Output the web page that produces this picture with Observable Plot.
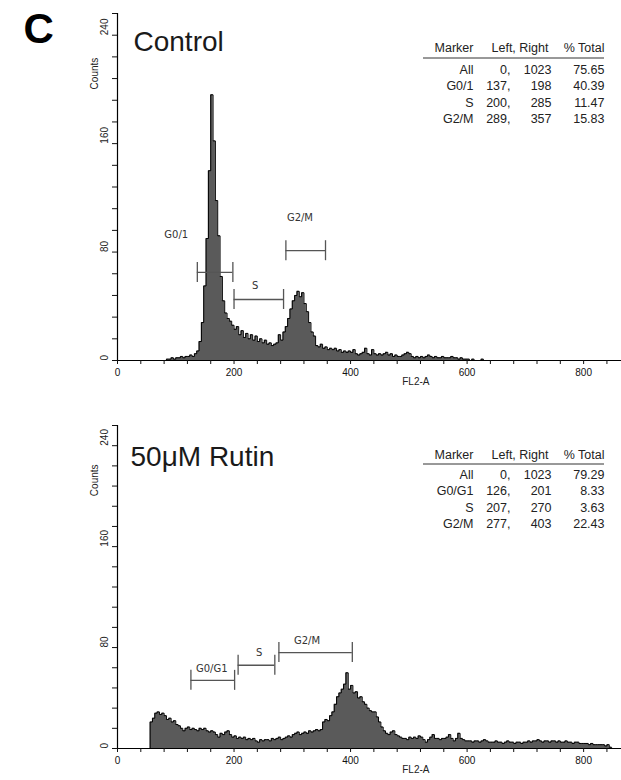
<!DOCTYPE html>
<html><head><meta charset="utf-8">
<script src="https://cdn.jsdelivr.net/npm/d3@7"></script>
<script src="https://cdn.jsdelivr.net/npm/@observablehq/plot@0.6"></script>
<style>
body{margin:0;background:#fff;}
#chart{width:621px;height:780px;position:relative;overflow:hidden;background:#fff;}
#chart svg{display:block;}
g[aria-label="marker-label"] text{letter-spacing:1.5px;}
</style></head><body><div id="chart"></div>
<script>
// ---------- data ----------
const binWidth = 4;            // FL2-A channels per histogram bin
const channelMax = 865;        // visible part of the 0..1023 channel axis
const countMax = 256;

const controlStart = 84;
const controlCounts = [1,1,2,1,2,2,3,2,3,3,4,3,5,7,14,28,55,90,140,196,162,118,92,62,44,35,31,29,26,23,25,19,22,17,20,16,19,15,18,14,16,13,15,12,13,11,12,13,19,15,21,25,31,38,44,48,51,47,50,42,36,28,21,18,11,10,12,9,10,8,9,8,9,7,8,6,7,6,7,6,8,5,4,5,6,9,5,4,8,5,4,5,4,5,6,4,5,3,4,3,3,4,5,6,5,3,2,3,2,3,2,3,4,3,2,3,2,2,3,2,2,2,3,2,2,1,2,1,1,1,0,1,0,0,0,1,0];

const rutinStart = 56;
const rutinCounts = [21,24,28,29,27,28,26,23,24,21,22,19,18,16,14,16,17,15,16,15,14,16,15,16,14,13,14,13,11,9,12,11,13,14,11,9,10,8,9,8,9,7,8,7,8,6,5,7,6,7,7,6,8,7,8,9,7,8,9,10,9,11,12,13,11,12,13,12,14,13,14,15,14,15,21,23,22,26,29,35,41,44,47,51,60,47,50,44,45,40,41,37,35,32,30,29,29,25,21,17,14,12,11,13,14,11,10,9,8,8,7,9,8,9,8,10,9,7,5,7,9,11,8,8,7,8,8,9,11,8,6,8,12,8,7,6,6,6,5,6,6,5,6,7,6,5,5,5,6,5,5,4,5,6,5,5,4,5,5,4,5,5,6,5,6,6,7,6,5,6,6,5,6,6,5,6,5,5,6,5,5,4,5,5,4,4,4,4,3,4,3,3,3,3,3,2,3,1];

const controlMarkerNames = ["G0/1", "S", "G2/M"];
const controlMarkerLeft  = [137, 200, 289];
const controlMarkerRight = [198, 285, 357];
const controlMarkerLevel = [65, 45, 81];

const rutinMarkerNames = ["G0/G1", "S", "G2/M"];
const rutinMarkerLeft  = [126, 207, 277];
const rutinMarkerRight = [201, 270, 403];
const rutinMarkerLevel = [54, 66, 76];

const tableHeader = ["Marker", "Left, Right", "% Total"];
const controlRowMarker = ["All", "G0/1", "S", "G2/M"];
const controlRowLeft   = [0, 137, 200, 289];
const controlRowRight  = [1023, 198, 285, 357];
const controlRowTotal  = ["75.65", "40.39", "11.47", "15.83"];

const rutinRowMarker = ["All", "G0/G1", "S", "G2/M"];
const rutinRowLeft   = [0, 126, 207, 277];
const rutinRowRight  = [1023, 201, 270, 403];
const rutinRowTotal  = ["79.29", "8.33", "3.63", "22.43"];

const xTickLabels = [0, 200, 400, 600, 800];
const yTickLabels = [0, 80, 160, 240];
const xMinorStep = 40;
const yMinorStep = 16;

// ---------- styling / layout ----------
const FONT = "'Liberation Sans', Arial, Helvetica, sans-serif";
const FILL = "#5a5a5a";
const MARKER_COLOR = "#555";

function histPoints(start, counts) {
  const pts = [{x: 0, y: 0}];
  counts.forEach((c, i) => pts.push({x: start + i * binWidth, y: c}));
  pts.push({x: start + counts.length * binWidth, y: 0});
  pts.push({x: channelMax, y: 0});
  return pts;
}

function panel(cfg) {
  const hist = histPoints(cfg.start, cfg.counts);
  const markers = cfg.names.map((n, i) => ({name: n, left: cfg.left[i], right: cfg.right[i], level: cfg.level[i]}));
  const frameH = cfg.height - cfg.marginTop - cfg.marginBottom;
  const capU = 10 * countMax / frameH; // ~10px cap half-height in count units
  const caps = markers.flatMap(m => [{x: m.left, level: m.level}, {x: m.right, level: m.level}]);

  const labelMarks = markers.map((m, i) => Plot.text([m], {
    x: "left", y: "level", text: "name",
    dx: cfg.labelOffsets[i][0], dy: cfg.labelOffsets[i][1],
    textAnchor: "start", lineAnchor: "bottom",
    fontFamily: "'DejaVu Sans', sans-serif", fontSize: 10, fill: "#333",
    ariaLabel: "marker-label"
  }));

  const t = cfg.table;
  const fs = 12.5;
  const txt = (s, dx, dy, extra = {}) => Plot.text([s], Object.assign({frameAnchor: "top-right", dx, dy, textAnchor: "end", lineAnchor: "bottom", fontSize: fs, fill: "#222"}, extra));
  const tableMarks = [
    txt(tableHeader[0], -148, t.headerY),
    txt(tableHeader[1], -73, t.headerY),
    txt(tableHeader[2], -17, t.headerY),
    txt(t.marker.join("\n"), -148, t.lastY, {lineHeight: t.lh}),
    txt(t.left.map(v => v + ",").join("\n"), -111, t.lastY, {lineHeight: t.lh}),
    txt(t.right.join("\n"), -70, t.lastY, {lineHeight: t.lh}),
    txt(t.total.join("\n"), -17, t.lastY, {lineHeight: t.lh}),
    (index, scales, values, dims) => {
      const l = document.createElementNS("http://www.w3.org/2000/svg", "line");
      const y = dims.marginTop + t.lineY;
      l.setAttribute("x1", dims.width - dims.marginRight - 198);
      l.setAttribute("x2", dims.width - dims.marginRight - 17);
      l.setAttribute("y1", y); l.setAttribute("y2", y);
      l.setAttribute("stroke", "#333"); l.setAttribute("stroke-width", 1);
      return l;
    }
  ];

  return Plot.plot({
    width: 621, height: cfg.height,
    marginLeft: 117, marginRight: 0, marginTop: cfg.marginTop, marginBottom: cfg.marginBottom,
    style: {fontFamily: FONT, color: "#111", background: "#fff", overflow: "visible"},
    x: {domain: [0, channelMax]},
    y: {domain: [0, countMax]},
    marks: [
      Plot.areaY(hist, {x: "x", y: "y", curve: "step-after", fill: FILL}),
      Plot.lineY(hist, {x: "x", y: "y", curve: "step-after", stroke: "#000", strokeWidth: 1}),
      Plot.ruleY([0], {stroke: "#000", strokeWidth: 1.2}),
      Plot.ruleX([0], {stroke: "#000", strokeWidth: 1.2}),
      Plot.axisX({ticks: d3.range(0, channelMax, xMinorStep), tickSize: 4, tickPadding: 4,
        tickFormat: d => xTickLabels.includes(d) ? String(d) : "", fontSize: 10, label: null}),
      Plot.axisY({ticks: d3.range(0, countMax + 1, yMinorStep), tickSize: 5, tickFormat: () => "", label: null}),
      Plot.text(yTickLabels, {y: d => d, frameAnchor: "left", dx: -13, rotate: -90, text: d => String(d), fontSize: 10, fill: "#222"}),
      Plot.text([200], {y: d => d, frameAnchor: "left", dx: -23, rotate: -90, text: () => "Counts", fontSize: 10, fill: "#222"}),
      Plot.text([512], {x: d => d, frameAnchor: "bottom", dy: 24, text: () => "FL2-A", fontSize: 10, fill: "#222"}),
      Plot.ruleY(markers, {x1: "left", x2: "right", y: "level", stroke: MARKER_COLOR, strokeWidth: 1.3}),
      Plot.ruleX(caps, {x: "x", y1: d => d.level - capU, y2: d => d.level + capU, stroke: MARKER_COLOR, strokeWidth: 1.3}),
      ...labelMarks,
      Plot.text([cfg.title], {frameAnchor: "top-left", dx: cfg.titleDx, dy: cfg.titleDy, textAnchor: "start", lineAnchor: "bottom", fontSize: 28, fill: "#1a1a1a"}),
      ...(cfg.panelLetter ? [Plot.text([cfg.panelLetter], {frameAnchor: "top-left", dx: -94, dy: 29, textAnchor: "start", lineAnchor: "bottom", fontSize: 42, fontWeight: "bold", fill: "#000"})] : []),
      ...tableMarks
    ]
  });
}

const chart = document.getElementById("chart");
chart.appendChild(panel({
  height: 395, marginTop: 13, marginBottom: 35,
  start: controlStart, counts: controlCounts,
  names: controlMarkerNames, left: controlMarkerLeft, right: controlMarkerRight, level: controlMarkerLevel,
  labelOffsets: [[-33, -34], [18, -11], [1, -30]],
  title: "Control", titleDx: 16, titleDy: 37, panelLetter: "C",
  table: {headerY: 38.5, lineY: 45, lastY: 109.5, lh: 1.32,
    marker: controlRowMarker, left: controlRowLeft, right: controlRowRight, total: controlRowTotal}
}));
chart.appendChild(panel({
  height: 385, marginTop: 30, marginBottom: 32,
  start: rutinStart, counts: rutinCounts,
  names: rutinMarkerNames, left: rutinMarkerLeft, right: rutinMarkerRight, level: rutinMarkerLevel,
  labelOffsets: [[5, -8], [18, -9], [15, -9]],
  title: "50\u03BCM Rutin", titleDx: 13, titleDy: 40, panelLetter: null,
  table: {headerY: 33, lineY: 39, lastY: 102.5, lh: 1.32,
    marker: rutinRowMarker, left: rutinRowLeft, right: rutinRowRight, total: rutinRowTotal}
}));
</script></body></html>
